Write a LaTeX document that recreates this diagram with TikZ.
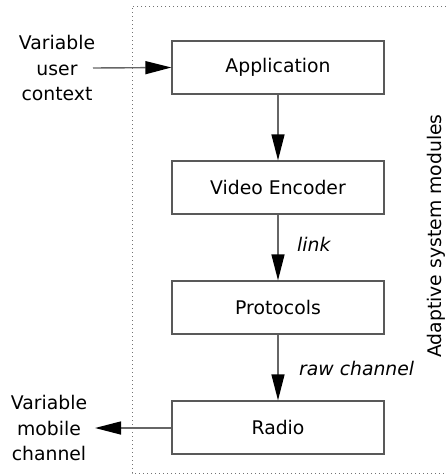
\documentclass[tikz,border=0pt]{standalone}
\usepackage{fontspec}
\setmainfont{DejaVu Sans}
\usetikzlibrary{arrows.meta}
\begin{document}
\begin{tikzpicture}[x=1pt,y=-1pt,
  every node/.style={font=\fontsize{18.8}{25.5}\selectfont, inner sep=0pt},
  modbox/.style={draw=black!65, line width=1.3pt, minimum width=212pt, minimum height=53pt},
  conn/.style={draw=black!60, line width=1.4pt, -{Triangle[length=26pt,width=13pt,black]}},
  lbl/.style={font=\fontsize{18.8}{25.5}\selectfont\itshape, anchor=west}]
\useasboundingbox (0,0) rectangle (445,474);
% dotted frame
\draw[black!55, line width=1pt, dash pattern=on 1pt off 3pt] (446,6) -- (132,6) -- (132,473) -- (446,473);
% modules
\node[modbox] (app) at (278,67.5) {Application};
\node[modbox] (enc) at (278,187.5) {Video Encoder};
\node[modbox] (prot) at (278,307.5) {Protocols};
\node[modbox] (radio) at (278,427.5) {Radio};
% outside labels
\node[align=center] (user) at (57,68) {Variable\\user\\context};
\node[align=center] (mob) at (49,428) {Variable\\mobile\\channel};
\coordinate (userend) at (93,68);
\coordinate (mobend) at (95,428);
% connectors
\draw[conn] (userend) -- (app.west);
\draw[conn] (app) -- (enc);
\draw[conn] (enc) -- (prot);
\draw[conn] (prot) -- (radio);
\draw[conn] (radio.west |- mobend) -- (mobend);
% connector labels
\node[lbl] (lnk) at (297,244) {link};
\node[lbl] (raw) at (299,368) {raw channel};
% side label
\node[rotate=90] (side) at (436,236) {Adaptive system modules};
\end{tikzpicture}
\end{document}
